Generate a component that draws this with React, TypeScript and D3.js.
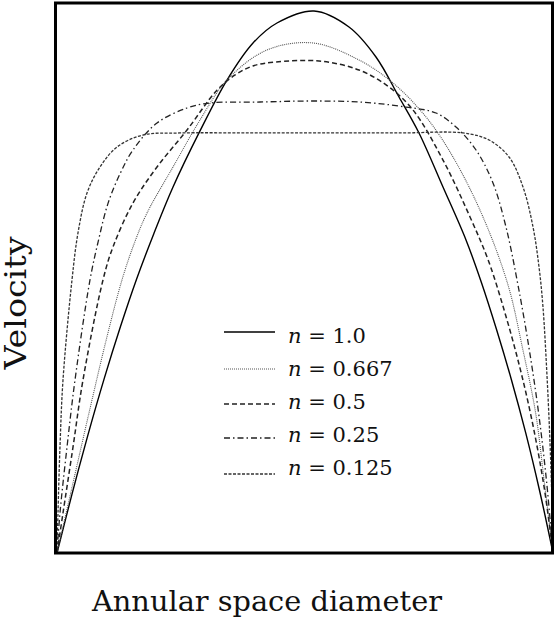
import React from "react";
import * as d3 from "d3";

// Series: [annular position (0-100), relative velocity (0-100)]
const n1_0: [number, number][] = [
  [0, 0], [3, 10.6], [6.2, 21.3], [9.5, 31.6], [12.8, 41.1], [16, 49.6], [19.5, 57.9],
  [23.39, 66.42], [28.83, 76.6], [34.27, 85.84], [39.52, 92.56], [44.35, 96.19],
  [51.81, 98.37], [58.87, 95.46], [64.31, 90.02], [68.95, 82.76], [72.98, 76.23],
  [77.82, 66.42], [82.46, 56.81], [85.6, 49], [88.6, 40.6], [91.6, 31.5],
  [94.5, 21.8], [97.3, 11.3], [100, 0],
];
const n0_667: [number, number][] = [
  [0, 0], [3.3, 13], [6.6, 26], [9.9, 38.6], [13.1, 49.55], [15.5, 56], [18.15, 61.71],
  [23.39, 70.05], [28.83, 78.58], [34.27, 85.84], [42.34, 91.29], [51.61, 92.56],
  [60.89, 89.47], [67.74, 85.3], [74.4, 79.13], [79.84, 71.87], [85.89, 60.98],
  [90.93, 48.64], [93.9, 37], [96.5, 25.4], [98.2, 13.25], [100, 0],
];
const n0_5: [number, number][] = [
  [0, 0], [1.21, 7.26], [3.23, 19.24], [5.24, 31.4], [9.27, 49.55], [11.29, 55.54],
  [15.32, 63.52], [20.16, 70.05], [26.21, 76.77], [32.26, 84], [36, 86.8],
  [39.5, 88.4], [44, 89.1], [52.82, 89.29], [60.89, 87.66], [66.94, 84.57], [71.77, 80.4],
  [77.82, 71.32], [83.27, 60.98], [87, 53], [90.5, 43], [93.5, 33], [96, 23],
  [98.2, 12], [100, 0],
];
const n0_25: [number, number][] = [
  [0, 0], [0.6, 7.26], [2.02, 19.24], [3.63, 31.4], [6.65, 49.55], [8.3, 56.5],
  [10.3, 63.5], [12.8, 69], [15.32, 73.14], [20.16, 78.04], [26.21, 80.76], [30.85, 81.67],
  [40.93, 81.85], [51.01, 82.03], [61.09, 81.85], [70.36, 80.94], [76.41, 79.85],
  [80.44, 77.31], [84.48, 73.14], [87.9, 67.15], [90.52, 59.17], [92.94, 48.64],
  [95.2, 37], [97.1, 25.4], [98.7, 13], [100, 0],
];
const n0_125: [number, number][] = [
  [0, 0], [0.2, 7.26], [0.6, 19.24], [1.21, 31.4], [3.02, 49.55], [4.23, 58.08],
  [6.05, 65.34], [8.67, 70.05], [12.1, 73.68], [17.34, 75.86], [24.8, 76.23],
  [38.91, 76.23], [53.02, 76.23], [69.15, 76.23], [81.85, 76.23], [87.1, 74.95],
  [91.13, 71.87], [93.95, 66.42], [95.97, 59.17], [97.18, 51.91], [97.98, 44.65],
  [98.8, 32], [99.4, 20], [99.8, 9], [100, 0],
];

const legendValues = ["1.0", "0.667", "0.5", "0.25", "0.125"];
const xLabel = "Annular space diameter";
const yLabel = "Velocity";

const seriesData = [n1_0, n0_667, n0_5, n0_25, n0_125];
const styles = [
  { dash: "none", width: 1.4, color: "#000" },
  { dash: "1,1", width: 1.1, color: "#555" },
  { dash: "5,3", width: 1.5, color: "#222" },
  { dash: "6,3,1.5,3", width: 1.3, color: "#222" },
  { dash: "3,1.5", width: 1.3, color: "#333" },
];
const legendLineOffsets = [-11, -7, -5, -4, -1];

export default function App() {
  const W = 556, H = 620;
  const left = 57, right = 553, top = 2, bottom = 553;
  const x = d3.scaleLinear().domain([0, 100]).range([left, right]);
  const y = d3.scaleLinear().domain([0, 100]).range([bottom, top]);
  const line = d3
    .line<[number, number]>()
    .x((d) => x(d[0]))
    .y((d) => y(d[1]))
    .curve(d3.curveCatmullRom.alpha(0.5));

  const font = "'DejaVu Serif', serif";
  return (
    <svg
      width={W}
      height={H}
      style={{ position: "absolute", left: 0, top: 0, background: "#fff" }}
    >
      <rect x={0} y={0} width={W} height={H} fill="#fff" />
      {seriesData.map((s, i) => (
        <path
          key={i}
          d={line(s) || ""}
          fill="none"
          stroke={styles[i].color}
          strokeWidth={styles[i].width}
          strokeDasharray={styles[i].dash}
        />
      ))}
      <rect
        x={55.5}
        y={3}
        width={497}
        height={550}
        fill="none"
        stroke="#000"
        strokeWidth={3}
      />
      {legendValues.map((v, i) => {
        const by = 343 + i * 33;
        return (
          <g key={v}>
            <line
              x1={224}
              x2={275}
              y1={by + legendLineOffsets[i]}
              y2={by + legendLineOffsets[i]}
              stroke={styles[i].color}
              strokeWidth={styles[i].width}
              strokeDasharray={styles[i].dash}
            />
            <text x={288} y={by} fontFamily={font} fontSize={21} fill="#111">
              <tspan fontStyle="italic">n</tspan>
              <tspan> = {v}</tspan>
            </text>
          </g>
        );
      })}
      <text
        x={267}
        y={611}
        textAnchor="middle"
        fontFamily={font}
        fontSize={28}
        textLength={350}
        lengthAdjust="spacingAndGlyphs"
        fill="#111"
      >
        {xLabel}
      </text>
      <text
        transform="translate(26,303) rotate(-90)"
        textAnchor="middle"
        fontFamily={font}
        fontSize={29}
        textLength={133}
        lengthAdjust="spacingAndGlyphs"
        fill="#111"
      >
        {yLabel}
      </text>
    </svg>
  );
}
